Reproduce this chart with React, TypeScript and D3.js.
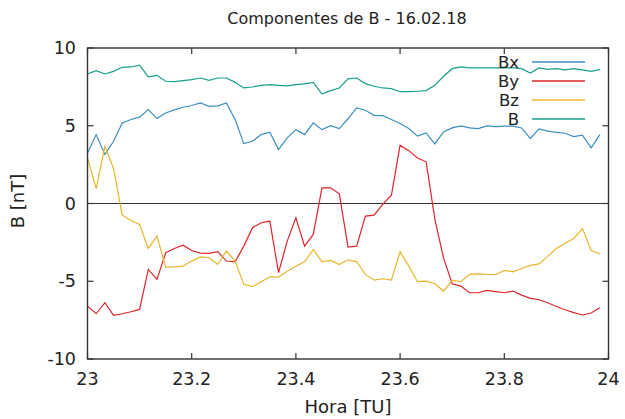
import React from "react";
import * as d3 from "d3";

const times: number[] = Array.from({ length: 60 }, (_, i) => 23 + i / 60);

const bxValues = [
  3.25, 4.43, 3.15, 4.0, 5.18, 5.4, 5.55, 6.04, 5.46, 5.82,
  6.02, 6.19, 6.3, 6.47, 6.25, 6.28, 6.47, 5.4, 3.85, 4.0,
  4.43, 4.58, 3.47, 4.22, 4.75, 4.43, 5.18, 4.75, 5.01, 4.82,
  5.45, 6.15, 6.0, 5.67, 5.65, 5.4, 5.14, 4.82, 4.33, 4.54,
  3.83, 4.6, 4.86, 4.99, 4.86, 4.82, 4.99, 4.95, 4.97, 4.97,
  4.86, 4.18, 4.8, 4.65, 4.58, 4.52, 4.3, 4.39, 3.58, 4.43,
];

const byValues = [
  -6.6, -7.09, -6.38, -7.19, -7.09, -6.96, -6.81, -4.24, -4.88, -3.17,
  -2.89, -2.68, -3.02, -3.19, -3.21, -3.1, -3.7, -3.75, -2.74, -1.56,
  -1.24, -1.13, -4.45, -2.42, -0.92, -2.74, -1.99, 1.01, 1.01, 0.62,
  -2.81, -2.74, -0.81, -0.75, -0.06, 0.54, 3.75, 3.4, 2.93, 2.68,
  -1.0, -3.5, -5.16, -5.31, -5.74, -5.74, -5.59, -5.67, -5.74, -5.63,
  -5.89, -6.1, -6.19, -6.38, -6.62, -6.83, -7.02, -7.17, -7.04, -6.7,
];

const bzValues = [
  2.93, 0.96, 3.68, 2.25, -0.75, -1.09, -1.35, -2.89, -2.1, -4.09,
  -4.07, -4.03, -3.7, -3.43, -3.49, -3.92, -3.06, -3.7, -5.2, -5.35,
  -5.03, -4.71, -4.73, -4.35, -4.03, -3.75, -2.96, -3.75, -3.66, -3.92,
  -3.62, -3.75, -4.56, -4.93, -4.84, -4.93, -3.1, -4.03, -5.03, -4.99,
  -5.16, -5.63, -4.95, -5.03, -4.56, -4.52, -4.56, -4.58, -4.3, -4.39,
  -4.18, -3.98, -3.88, -3.4, -2.89, -2.55, -2.25, -1.61, -3.02, -3.23,
];

const bValues = [
  8.33, 8.54, 8.33, 8.5, 8.76, 8.78, 8.89, 8.14, 8.24, 7.86,
  7.84, 7.9, 7.97, 8.07, 7.92, 8.07, 8.07, 7.79, 7.43, 7.49,
  7.6, 7.64, 7.6, 7.56, 7.64, 7.69, 7.79, 7.04, 7.26, 7.43,
  8.02, 8.07, 7.71, 7.54, 7.43, 7.39, 7.19, 7.19, 7.22, 7.26,
  7.6, 8.18, 8.67, 8.78, 8.72, 8.72, 8.72, 8.72, 8.72, 8.72,
  8.67, 8.39, 8.72, 8.63, 8.67, 8.59, 8.67, 8.59, 8.5, 8.61,
];

const xTicks = [23, 23.2, 23.4, 23.6, 23.8, 24];
const yTicks = [-10, -5, 0, 5, 10];

const seriesNames = ["Bx", "By", "Bz", "B"];
const seriesColors = ["#3a90c2", "#e0242a", "#e8b62a", "#16a08c"];
const seriesData = [bxValues, byValues, bzValues, bValues];

const title = "Componentes de B - 16.02.18";
const xLabel = "Hora [TU]";
const yLabel = "B [nT]";

export default function App() {
  const W = 625;
  const H = 419;
  const left = 87.5;
  const right = 608.5;
  const top = 48;
  const bottom = 359;

  const x = d3.scaleLinear().domain([23, 24]).range([left, right]);
  const y = d3.scaleLinear().domain([-10, 10]).range([bottom, top]);

  const line = d3
    .line<number>()
    .x((_, i) => x(times[i]))
    .y((d) => y(d));

  const font = "'DejaVu Sans', Verdana, sans-serif";
  const tl = 6;

  return (
    <svg
      width={W}
      height={H}
      style={{ position: "absolute", left: 0, top: 0, background: "#fff" }}
      fontFamily={font}
    >
      <rect x={0} y={0} width={W} height={H} fill="#fff" />
      <line x1={left} x2={right} y1={y(0)} y2={y(0)} stroke="#333" strokeWidth={1} />
      {seriesData.map((vals, k) => (
        <path
          key={seriesNames[k]}
          d={line(vals) || ""}
          fill="none"
          stroke={seriesColors[k]}
          strokeWidth={1.2}
        />
      ))}
      <rect
        x={left}
        y={top}
        width={right - left}
        height={bottom - top}
        fill="none"
        stroke="#333"
        strokeWidth={1.4}
      />
      {xTicks.map((t) => (
        <g key={"x" + t}>
          <line x1={x(t)} x2={x(t)} y1={bottom} y2={bottom - tl} stroke="#333" strokeWidth={1.2} />
          <line x1={x(t)} x2={x(t)} y1={top} y2={top + tl} stroke="#333" strokeWidth={1.2} />
          <text x={x(t)} y={384.5} textAnchor="middle" fontSize={17.5} fill="#222">
            {d3.format("")(t)}
          </text>
        </g>
      ))}
      {yTicks.map((t) => (
        <g key={"y" + t}>
          <line x1={left} x2={left + tl} y1={y(t)} y2={y(t)} stroke="#333" strokeWidth={1.2} />
          <line x1={right} x2={right - tl} y1={y(t)} y2={y(t)} stroke="#333" strokeWidth={1.2} />
          <text x={76} y={y(t) + 6} textAnchor="end" fontSize={17.5} fill="#222">
            {t}
          </text>
        </g>
      ))}
      {seriesNames.map((n, k) => {
        const ly = 62 + k * 19;
        return (
          <g key={"leg" + n}>
            <text x={519} y={ly + 6} textAnchor="end" fontSize={16.5} fill="#222">
              {n}
            </text>
            <line x1={532} x2={585} y1={ly} y2={ly} stroke={seriesColors[k]} strokeWidth={1.3} />
          </g>
        );
      })}
      <text x={347} y={24} textAnchor="middle" fontSize={16} fill="#222">
        {title}
      </text>
      <text x={348} y={413} textAnchor="middle" fontSize={18} fill="#222">
        {xLabel}
      </text>
      <text
        transform={`translate(24,201) rotate(-90)`}
        textAnchor="middle"
        fontSize={18}
        fill="#222"
      >
        {yLabel}
      </text>
    </svg>
  );
}
